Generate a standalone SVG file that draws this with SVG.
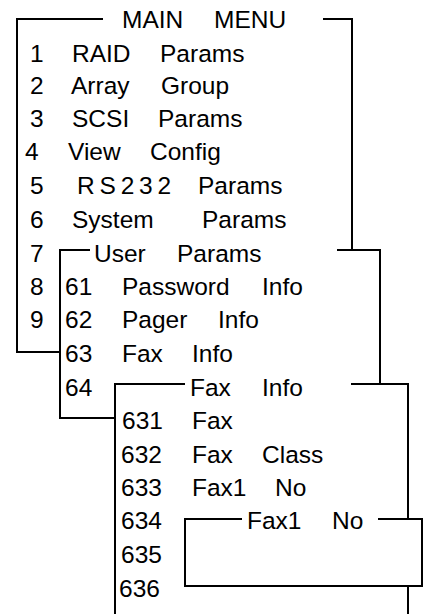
<svg xmlns="http://www.w3.org/2000/svg" width="431" height="614" viewBox="0 0 431 614">
<style>
text{font-family:"Liberation Sans",Arial,sans-serif;font-size:24.5px;fill:#000}
.ln{stroke:#000;stroke-width:2;fill:none}
.sp{letter-spacing:4.8px}
</style>
<rect width="431" height="614" fill="#fff"/>
<g id="connectors" class="ln">
<path d="M103 19H17V352H60"/>
<path d="M323 19H352V250"/>
<path d="M90 250H60V418H115"/>
<path d="M337 250H380V384"/>
<path d="M185 384H115V614"/>
<path d="M351 384H408V519"/>
<path d="M242 519H185V586H422V519H378"/>
<path d="M408 586V614"/>
</g>
<g id="main-menu">
<text x="122" y="28">MAIN</text><text x="214" y="28">MENU</text>
<text x="30" y="62">1</text><text x="72" y="62">RAID</text><text x="160" y="62">Params</text>
<text x="30" y="94">2</text><text x="71" y="94">Array</text><text x="161" y="94">Group</text>
<text x="30" y="127">3</text><text x="72" y="127">SCSI</text><text x="158" y="127">Params</text>
<text x="25" y="160">4</text><text x="68" y="160">View</text><text x="150" y="160">Config</text>
<text x="30" y="194">5</text><text class="sp" x="77" y="194">RS232</text><text x="198" y="194">Params</text>
<text x="30" y="228">6</text><text x="72" y="228">System</text><text x="202" y="228">Params</text>
<text x="30" y="262">7</text>
<text x="30" y="295">8</text>
<text x="30" y="328">9</text>
</g>
<g id="user-params">
<text x="94" y="262">User</text><text x="177" y="262">Params</text>
<text x="65" y="295">61</text><text x="122" y="295">Password</text><text x="262" y="295">Info</text>
<text x="65" y="328">62</text><text x="122" y="328">Pager</text><text x="218" y="328">Info</text>
<text x="65" y="362">63</text><text x="122" y="362">Fax</text><text x="192" y="362">Info</text>
<text x="65" y="396">64</text>
</g>
<g id="fax-info">
<text x="190" y="396">Fax</text><text x="262" y="396">Info</text>
<text x="122" y="429">631</text><text x="192" y="429">Fax</text>
<text x="121" y="463">632</text><text x="192" y="463">Fax</text><text x="262" y="463">Class</text>
<text x="121" y="496">633</text><text x="192" y="496">Fax1</text><text x="275" y="496">No</text>
<text x="121" y="529">634</text>
<text x="121" y="563">635</text>
<text x="119" y="597">636</text>
</g>
<g id="fax1-no">
<text x="247" y="529">Fax1</text><text x="332" y="529">No</text>
</g>
</svg>
